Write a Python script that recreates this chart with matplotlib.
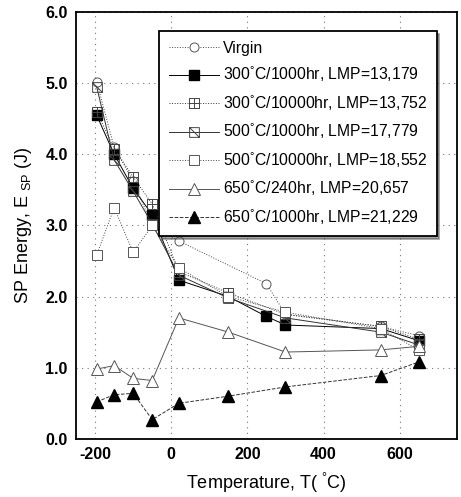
import numpy as np
import matplotlib
matplotlib.use("Agg")
import matplotlib.pyplot as plt
from matplotlib.path import Path

plt.rcParams['font.family'] = ['Liberation Sans', 'DejaVu Sans']
plt.rcParams['mathtext.fontset'] = 'custom'
plt.rcParams['mathtext.rm'] = 'Liberation Sans'
plt.rcParams['mathtext.it'] = 'Liberation Sans'
plt.rcParams['axes.unicode_minus'] = False

# test temperatures (C)
t_main = [-196, -150, -100, -50, 20, 150, 300, 550, 650]

virgin_t = [-196, -150, -100, -50, 20, 250, 300, 550, 650]
virgin = [5.02, 4.10, 3.62, 3.00, 2.78, 2.18, 1.75, 1.58, 1.45]

s300_1000_t = [-196, -150, -100, -50, 20, 150, 250, 300, 550, 650]
s300_1000 = [4.55, 4.00, 3.52, 3.15, 2.23, 2.00, 1.72, 1.60, 1.55, 1.38]

s300_10000 = [4.60, 4.08, 3.68, 3.30, 2.35, 2.05, 1.75, 1.58, 1.40]
s500_1000 = [4.95, 3.92, 3.48, 3.02, 2.30, 1.98, 1.70, 1.50, 1.32]
s500_10000 = [2.58, 3.25, 2.62, 3.00, 2.40, 2.00, 1.78, 1.55, 1.25]
s650_240 = [0.98, 1.03, 0.85, 0.82, 1.70, 1.50, 1.22, 1.25, 1.30]
s650_1000 = [0.52, 0.62, 0.64, 0.27, 0.50, 0.60, 0.73, 0.89, 1.08]

labels = ["Virgin",
          "300$^{\\degree}$C/1000hr, LMP=13,179",
          "300$^{\\degree}$C/10000hr, LMP=13,752",
          "500$^{\\degree}$C/1000hr, LMP=17,779",
          "500$^{\\degree}$C/10000hr, LMP=18,552",
          "650$^{\\degree}$C/240hr, LMP=20,657",
          "650$^{\\degree}$C/1000hr, LMP=21,229"]

# square markers with a cross / a diagonal inside
M, L = Path.MOVETO, Path.LINETO
sq = [(-1, -1), (1, -1), (1, 1), (-1, 1), (-1, -1)]
box_plus = Path(sq + [(0, -1), (0, 1), (-1, 0), (1, 0)],
                [M, L, L, L, L, M, L, M, L])
box_slash = Path(sq + [(-1, 1), (1, -1)], [M, L, L, L, L, M, L])

fig = plt.figure(figsize=(4.61, 4.97), dpi=100)
ax = fig.add_axes([0.165, 0.117, 0.826, 0.859])

lw = 0.7
ax.plot(virgin_t, virgin, ls=':', color='#444444', lw=lw, marker='o', ms=6.5,
        mfc='white', mec='#555555', mew=0.7, label=labels[0])
ax.plot(s300_1000_t, s300_1000, ls='-', color='black', lw=lw, marker='s', ms=7,
        mfc='black', mec='black', label=labels[1])
ax.plot(t_main, s300_10000, ls=':', color='#333333', lw=lw, marker=box_plus, ms=7,
        mfc='none', mec='#444444', mew=0.7, label=labels[2])
ax.plot(t_main, s500_1000, ls='-', color='#333333', lw=lw, marker=box_slash, ms=7,
        mfc='none', mec='#444444', mew=0.7, label=labels[3])
ax.plot(t_main, s500_10000, ls=':', color='#444444', lw=lw, marker='s', ms=7,
        mfc='white', mec='#555555', mew=0.7, label=labels[4])
ax.plot(t_main, s650_240, ls='-', color='#555555', lw=lw, marker='^', ms=8,
        mfc='white', mec='#555555', mew=0.7, label=labels[5])
ax.plot(t_main, s650_1000, ls='--', color='#333333', lw=lw, marker='^', ms=8,
        mfc='black', mec='black', label=labels[6])

ax.set_xlim(-250, 750)
ax.set_ylim(0, 6)
ax.set_xticks([-200, 0, 200, 400, 600])
ax.set_yticks(np.arange(0, 6.1, 1.0))
ax.set_yticklabels([f"{v:.1f}" for v in np.arange(0, 6.1, 1.0)])
ax.tick_params(direction='in', length=0, labelsize=11.5, pad=6)
for lab in ax.get_xticklabels() + ax.get_yticklabels():
    lab.set_fontweight('bold')
ax.grid(True, ls=(0, (1, 4)), color='#777777', lw=0.8)
for s in ax.spines.values():
    s.set_linewidth(1.3)

ax.set_xlabel("Temperature, T( $^{\\degree}$C)", fontsize=13, labelpad=6)
ax.set_ylabel("SP Energy, E $_{SP}$ (J)", fontsize=13, labelpad=8)

leg = ax.legend(loc='upper right', bbox_to_anchor=(0.955, 0.962), fontsize=11.3,
                frameon=True, fancybox=False, shadow=True, framealpha=1,
                edgecolor='black', handlelength=3.2, borderpad=0.6,
                labelspacing=0.5, handletextpad=0.25, borderaxespad=0.2)
leg.get_frame().set_linewidth(1.3)

fig.savefig("out.png", dpi=100)
